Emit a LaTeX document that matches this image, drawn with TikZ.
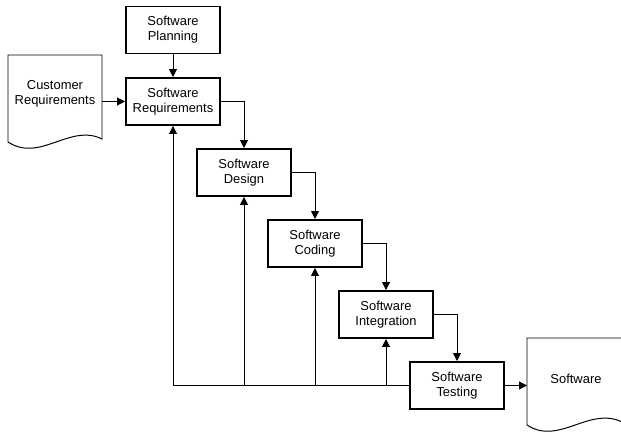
\documentclass[tikz,border=0pt]{standalone}
\usepackage{fontspec}
\setmainfont{Liberation Sans}
\usetikzlibrary{arrows.meta}
\tikzset{
  stage/.style={draw, line width=1.4pt, minimum width=2.35cm, minimum height=1.175cm,
    inner sep=0pt, align=center, font=\fontsize{9.2}{10.7}\selectfont},
  doclabel/.style={align=center, font=\fontsize{9.2}{10.7}\selectfont},
  flow/.style={line width=0.7pt, -{Triangle[length=0.2cm,width=0.2cm]}},
  doc/.style={line width=0.7pt}
}

\begin{document}
\begin{tikzpicture}[scale=1]
  \useasboundingbox (0,0) rectangle (15.525,10.85);

  % stages of the waterfall
  \node[stage] (plan)  at (4.325,10.1)    {Software\\Planning};
  \node[stage] (req)   at (4.325,8.3125)  {Software\\Requirements};
  \node[stage] (des)   at (6.1,6.5375)    {Software\\Design};
  \node[stage] (cod)   at (7.875,4.7625)  {Software\\Coding};
  \node[stage] (integ) at (9.65,2.9875)   {Software\\Integration};
  \node[stage] (test)  at (11.425,1.2125) {Software\\Testing};

  % input and output documents
  \draw[doc] (0.2,9.475) -- (2.55,9.475) -- (2.55,7.375)
    .. controls (1.75,7.775) and (1.0,6.775) .. (0.2,7.3) -- cycle;
  \node[doclabel] (cust) at (1.375,8.5) {Customer\\Requirements};
  \coordinate (custR) at (2.55,8.3125);

  \draw[doc] (13.175,2.4) -- (15.55,2.4) -- (15.55,0.3)
    .. controls (14.725,0.7) and (13.975,-0.3) .. (13.175,0.225) -- cycle;
  \node[doclabel] (soft) at (14.4,1.375) {Software};
  \coordinate (softL) at (13.175,1.2125);

  % forward flow
  \draw[flow] (plan.south) -- (req.north);
  \draw[flow] (custR) -- (req.west);
  \draw[flow] (req.east) -| (des.north);
  \draw[flow] (des.east) -| (cod.north);
  \draw[flow] (cod.east) -| (integ.north);
  \draw[flow] (integ.east) -| (test.north);
  \draw[flow] (test.east) -- (softL);

  % feedback from testing
  \draw[flow] (test.west) -| (req.south);
  \draw[flow] (des |- test.west) -- (des.south);
  \draw[flow] (cod |- test.west) -- (cod.south);
  \draw[flow] (integ |- test.west) -- (integ.south);
\end{tikzpicture}
\end{document}
